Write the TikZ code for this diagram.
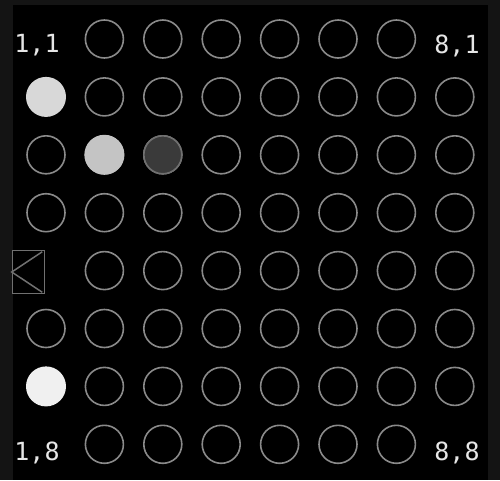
\documentclass[tikz,border=0pt]{standalone}
\usepackage{fontspec}
\newfontfamily\monofont{DejaVu Sans Mono}
\definecolor{frame}{HTML}{141414}
\definecolor{ring}{HTML}{8A8A8A}
\definecolor{litA}{HTML}{D8D8D8}
\definecolor{litB}{HTML}{C4C4C4}
\definecolor{litC}{HTML}{F0F0F0}
\definecolor{dimfill}{HTML}{3A3A3A}
\definecolor{dimring}{HTML}{707070}
\definecolor{txt}{HTML}{E6E6E6}
\begin{document}
\begin{tikzpicture}[x=1pt,y=-1pt,
  led/.style={circle,draw=ring,line width=1.6pt,minimum size=38pt,inner sep=0pt},
  ledon/.style={circle,draw=none,minimum size=40pt,inner sep=0pt},
  lbl/.style={text=txt,font=\monofont\fontsize{25}{25}\selectfont,inner sep=0pt}]
\useasboundingbox (0,0) rectangle (500,480);
\fill[frame] (0,0) rectangle (500,480);
\fill[black] (13,5) rectangle (488,480);
% grid of LEDs
\foreach \c in {1,...,8}{
  \foreach \r in {1,...,8}{
    \pgfmathsetmacro{\px}{46+58.4*(\c-1)}
    \pgfmathsetmacro{\py}{39+57.9*(\r-1)}
    \coordinate (p-\c-\r) at (\px,\py);
  }
}
\foreach \c in {2,...,7}{
  \foreach \r in {1,...,8}{
    \node[led] (c-\c-\r) at (p-\c-\r) {};
  }
}
\foreach \r in {2,...,7}{
  \node[led] (c-8-\r) at (p-8-\r) {};
}
\foreach \r in {3,4,6}{
  \node[led] (c-1-\r) at (p-1-\r) {};
}
\node[ledon,fill=litA] (c-1-2) at (p-1-2) {};
\node[ledon,fill=litC] (c-1-7) at (p-1-7) {};
\node[ledon,fill=litB] (c-2-3b) at (p-2-3) {};
\node[circle,draw=dimring,fill=dimfill,line width=1.6pt,minimum size=38pt,inner sep=0pt] (c-3-3b) at (p-3-3) {};
% triangle marker
\node[draw=dimring,line width=1.5pt,minimum width=32pt,minimum height=43pt,inner sep=0pt] (tri) at (28.5,272) {};
\draw[dimring,line width=1.5pt] (tri.north east) ++(-3,2) -- (tri.west) -- ([shift={(-3,-2)}]tri.south east);
% labels
\node[lbl] (l11) at (37,45) {1,1};
\node[lbl] (l81) at (457,46) {8,1};
\node[lbl] (l18) at (37,453) {1,8};
\node[lbl] (l88) at (457,453) {8,8};
\end{tikzpicture}
\end{document}
